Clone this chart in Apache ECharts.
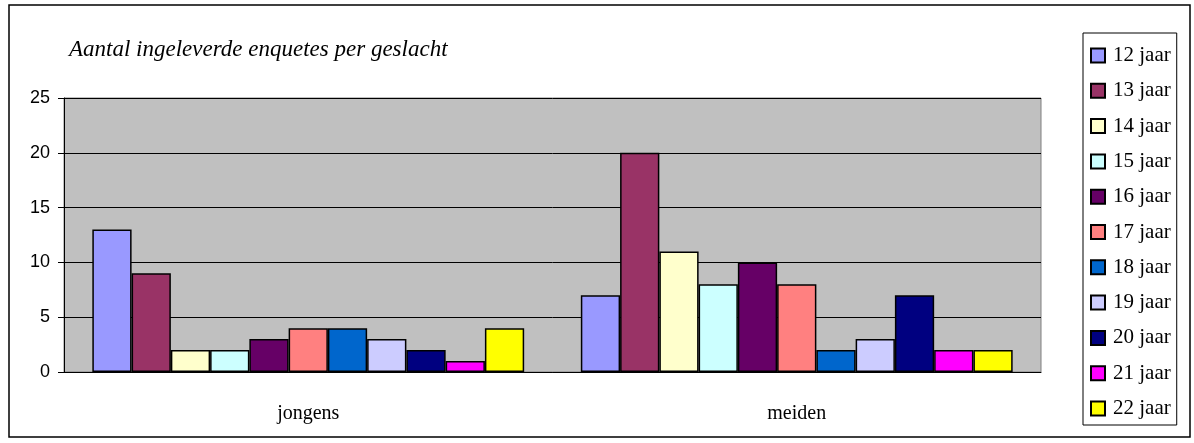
<!DOCTYPE html>
<html>
<head>
<meta charset="utf-8">
<title>Aantal ingeleverde enquetes per geslacht</title>
<script src="https://cdn.jsdelivr.net/npm/echarts@6/dist/echarts.min.js"></script>
<style>
  html, body { margin: 0; padding: 0; background: #fff; }
  #chart { width: 1194px; height: 443px; }
</style>
</head>
<body>
<div id="chart"></div>
<script>
// categories and series
const categories = ['jongens', 'meiden']
const ageLabels = ['12 jaar', '13 jaar', '14 jaar', '15 jaar', '16 jaar', '17 jaar',
  '18 jaar', '19 jaar', '20 jaar', '21 jaar', '22 jaar']
const jongens = [13, 9, 2, 2, 3, 4, 4, 3, 2, 1, 4]
const meiden = [7, 20, 11, 8, 10, 8, 2, 3, 7, 2, 2]
const colors = ['#9999FF', '#993366', '#FFFFCC', '#CCFFFF', '#660066', '#FF8080',
  '#0066CC', '#CCCCFF', '#000080', '#FF00FF', '#FFFF00']

const serif = '"Liberation Serif", "Times New Roman", serif'
const sans = '"Liberation Sans", Arial, sans-serif'

const chart = echarts.init(document.getElementById('chart'))

chart.setOption({
  animation: false,
  color: colors,
  title: {
    text: 'Aantal ingeleverde enquetes per geslacht',
    left: 64,
    top: 33,
    textStyle: {
      fontFamily: serif,
      fontStyle: 'italic',
      fontWeight: 'normal',
      fontSize: 23,
      color: '#000'
    }
  },
  graphic: [{
    type: 'rect',
    shape: { x: 9, y: 5, width: 1181, height: 432 },
    style: { fill: 'none', stroke: '#000', lineWidth: 1.5 },
    z: -1
  }],
  legend: {
    orient: 'vertical',
    left: 1083,
    top: 33,
    padding: [12, 6, 6, 7],
    itemWidth: 14,
    itemHeight: 14,
    itemGap: 14.3,
    icon: 'rect',
    borderColor: '#000',
    borderWidth: 1,
    backgroundColor: '#fff',
    textStyle: {
      fontFamily: serif,
      fontSize: 21,
      lineHeight: 20,
      color: '#000',
      padding: [0, 0, 0, 3]
    },
    data: ageLabels
  },
  grid: {
    left: 64,
    right: 153,
    top: 98,
    bottom: 71,
    show: true,
    backgroundColor: '#C0C0C0',
    borderColor: '#808080',
    borderWidth: 1
  },
  xAxis: {
    type: 'category',
    data: categories,
    axisLine: { lineStyle: { color: '#000', width: 1 } },
    axisTick: { length: 7, lineStyle: { color: '#000' } },
    axisLabel: {
      margin: 32,
      fontFamily: serif,
      fontSize: 20,
      color: '#000'
    }
  },
  yAxis: {
    type: 'value',
    min: 0,
    max: 25,
    interval: 5,
    axisLine: { show: true, lineStyle: { color: '#000', width: 1 } },
    axisTick: { show: true, length: 6, lineStyle: { color: '#000' } },
    axisLabel: {
      margin: 14,
      fontFamily: sans,
      fontSize: 18,
      color: '#000'
    },
    splitLine: { lineStyle: { color: '#000', width: 1 } }
  },
  series: ageLabels.map((name, i) => ({
    name: name,
    type: 'bar',
    data: [jongens[i], meiden[i]],
    barGap: '0%',
    barCategoryGap: '11.6%',
    itemStyle: {
      color: colors[i],
      borderColor: '#000',
      borderWidth: 1.5
    }
  }))
})
</script>
</body>
</html>
